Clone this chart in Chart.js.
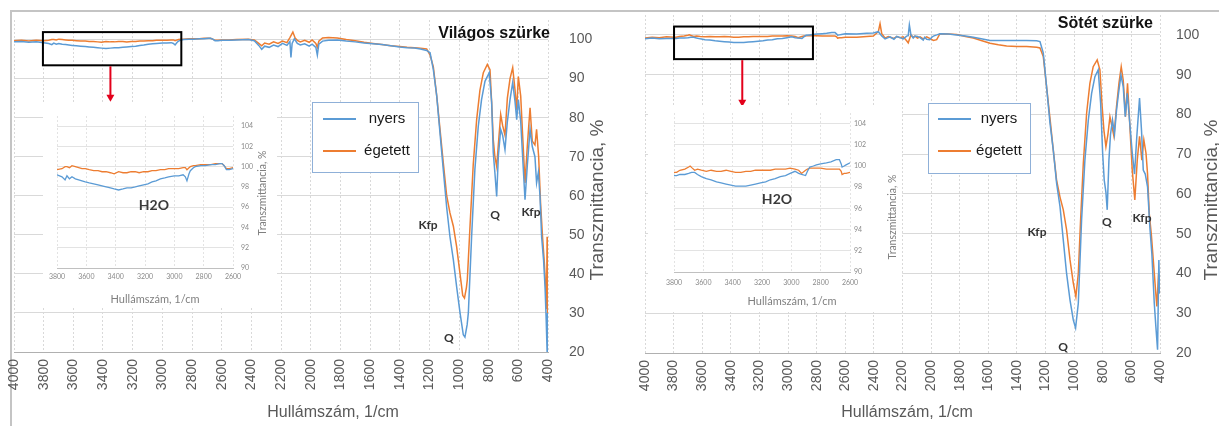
<!DOCTYPE html>
<html>
<head>
<meta charset="utf-8">
<script src="https://cdn.jsdelivr.net/npm/chart.js@4.4.0/dist/chart.umd.min.js"></script>
<style>
  html, body { margin: 0; padding: 0; background: #fff; }
  #wrap { position: relative; width: 1219px; height: 426px; overflow: hidden; background: #fff; }
  #wrap canvas { position: absolute; }
  .frame { position: absolute; left: 10px; top: 10px; width: 1209px; height: 416px;
           border-top: 2px solid #c4c4c4; border-left: 2px solid #c4c4c4; }
</style>
</head>
<body>
<div id="wrap">
  <div class="frame"></div>
  <canvas id="mainLight" width="610" height="426" style="left:0;top:0"></canvas>
  <canvas id="mainDark" width="609" height="426" style="left:610px;top:0"></canvas>
  <canvas id="insetLight" width="234" height="204" style="left:43px;top:103px;background:#fff"></canvas>
  <canvas id="insetDark" width="254" height="207" style="left:648px;top:105px;background:#fff"></canvas>
</div>
<script>
// --- data (wavenumber 1/cm, transmittance %) ---
const seriesNames = ['nyers', 'égetett'];

const lightRawWn = [4000,3950,3900,3850,3800,3766,3745,3732,3715,3698,
  3675,3652,3630,3607,3580,3550,3520,3493,3465,3436,
  3410,3380,3350,3323,3295,3266,3240,3209,3180,3152,
  3125,3095,3065,3039,3000,2970,2940,2925,2914,2900,
  2891,2870,2857,2820,2789,2750,2720,2690,2675,2660,
  2645,2625,2600,2550,2500,2420,2380,2350,2330,2310,
  2280,2250,2220,2190,2160,2140,2133,2125,2110,2090,
  2070,2040,2010,1990,1965,1955,1945,1920,1880,1820,
  1760,1700,1640,1580,1520,1460,1400,1350,1300,1260,
  1218,1195,1173,1150,1128,1106,1083,1061,1038,1016,
  993,971,960,945,937,915,893,870,848,825,
  796,780,769,758,746,735,719,706,690,674,
  656,638,622,611,600,584,571,555,539,521,
  506,488,477,465,454,443,430,420,412,406,
  403,400];
const lightRawT = [99.4,99.5,99.3,99.4,99.2,99.0,98.7,99.1,98.8,99.0,
  98.8,98.7,98.6,98.5,98.4,98.3,98.2,98.1,98.0,97.9,
  97.8,97.7,97.8,97.9,97.9,98.0,98.1,98.2,98.3,98.5,
  98.6,98.8,98.9,99.0,99.1,99.1,99.2,99.0,98.6,99.3,
  99.6,99.9,100.0,100.1,100.1,100.2,100.2,100.3,100.3,100.1,
  99.7,99.7,99.8,99.8,99.9,100.0,99.7,98.5,97.5,98.3,
  98.0,98.6,98.2,99.0,98.5,99.5,95.4,99.0,100.2,99.0,
  98.6,98.9,98.3,98.8,98.0,96.0,98.8,99.6,99.8,99.9,
  99.6,99.4,99.1,98.9,98.7,98.4,98.1,97.9,97.8,97.6,
  97.2,96.6,92.3,85.5,76.0,66.7,57.0,49.5,43.6,36.7,
  30.0,24.4,23.8,27.0,30.0,49.5,66.7,77.8,84.6,89.3,
  91.5,84.0,71.0,65.9,59.8,70.0,77.0,75.5,71.8,79.0,
  84.6,89.0,84.0,79.5,84.6,79.0,70.0,59.0,68.0,77.0,
  72.6,70.0,63.3,66.0,60.0,49.5,43.6,36.7,28.0,20.0,
  30.0,27.0];

const lightBurntWn = [4000,3950,3900,3850,3800,3766,3745,3732,3715,3698,
  3675,3652,3630,3607,3580,3550,3520,3493,3465,3436,
  3410,3380,3350,3323,3295,3266,3240,3209,3180,3152,
  3125,3095,3065,3039,3000,2970,2940,2925,2914,2900,
  2891,2870,2857,2820,2789,2750,2720,2690,2675,2660,
  2645,2625,2600,2550,2500,2420,2380,2350,2330,2310,
  2280,2250,2220,2190,2160,2140,2120,2105,2090,2070,
  2040,2010,1990,1965,1955,1945,1920,1880,1820,1760,
  1700,1640,1580,1520,1460,1400,1350,1300,1260,1218,
  1195,1173,1150,1128,1106,1083,1061,1038,1016,993,
  975,963,950,944,926,904,881,859,836,809,
  791,780,769,758,746,735,719,706,690,674,
  656,638,622,611,600,584,571,555,539,521,
  506,488,477,463,450,436,425,415,410,406,
  403,400];
const lightBurntT = [99.7,99.8,99.6,99.8,99.7,99.8,100.0,100.0,99.9,100.1,
  100.0,99.9,99.8,99.8,99.7,99.6,99.6,99.5,99.5,99.4,
  99.3,99.5,99.4,99.4,99.5,99.5,99.4,99.5,99.5,99.6,
  99.6,99.7,99.7,99.8,99.8,99.8,99.9,99.9,99.7,99.9,
  100.0,100.1,100.1,100.2,100.2,100.2,100.3,100.3,100.3,100.1,
  99.8,99.8,99.9,99.9,100.0,100.1,99.9,99.0,98.4,99.1,
  98.8,99.4,99.0,99.6,99.2,100.5,101.9,100.4,99.8,99.4,
  99.8,99.3,99.9,99.0,98.0,99.6,100.4,100.5,100.4,100.0,
  99.7,99.3,99.0,98.7,98.4,98.2,98.0,97.9,97.8,97.6,
  96.0,93.0,85.5,77.0,68.5,60.0,55.6,52.2,47.0,40.0,
  34.5,33.8,36.5,38.5,52.0,68.0,79.5,87.0,91.5,93.6,
  92.3,84.0,74.4,70.0,67.5,73.0,80.8,78.0,75.5,85.0,
  90.0,92.8,87.0,82.0,90.5,85.5,75.5,63.3,73.0,82.5,
  74.0,73.0,77.0,70.0,58.0,49.0,43.0,36.0,31.0,49.5,
  29.0,33.0];

const darkRawWn = [4000,3950,3900,3850,3800,3782,3760,3726,3700,3680,
  3659,3640,3614,3580,3547,3510,3479,3445,3412,3380,
  3345,3310,3277,3245,3210,3175,3143,3110,3075,3040,
  3008,2975,2950,2930,2903,2890,2874,2850,2829,2800,
  2761,2730,2694,2672,2660,2654,2640,2627,2600,2520,
  2450,2404,2369,2345,2322,2300,2287,2260,2240,2217,
  2195,2171,2160,2152,2141,2125,2113,2095,2077,2055,
  2045,2031,2010,1995,1984,1960,1938,1880,1821,1760,
  1705,1650,1588,1530,1472,1400,1332,1262,1239,1216,
  1193,1169,1146,1123,1099,1076,1053,1029,1006,990,
  971,948,925,901,878,855,832,815,801,790,
  778,769,757,746,732,718,704,690,673,657,
  643,629,613,594,578,562,543,529,517,503,
  487,471,457,440,429,417,408,403,400];
const darkRawT = [99.0,99.2,99.0,99.1,99.1,99.1,99.2,99.2,99.3,99.4,
  99.4,99.2,99.0,98.8,98.7,98.5,98.4,98.3,98.2,98.1,
  98.1,98.1,98.2,98.3,98.4,98.5,98.7,98.8,99.0,99.1,
  99.3,99.5,99.3,99.2,99.1,99.5,99.9,100.0,100.1,100.2,
  100.3,100.4,100.6,100.6,100.2,99.9,100.0,100.1,100.3,100.2,
  100.4,100.5,100.8,99.7,99.0,99.3,99.5,98.9,99.6,99.3,
  99.0,99.7,99.8,102.5,100.0,99.2,99.7,99.6,99.3,98.7,
  99.4,98.9,98.8,99.4,99.7,100.0,100.3,100.2,100.0,99.7,
  99.4,99.0,98.6,98.6,98.6,98.6,98.6,98.5,98.3,95.5,
  87.0,77.8,71.0,62.8,56.8,48.4,40.0,33.3,28.3,26.3,
  32.5,53.5,68.5,78.6,85.3,89.5,91.2,82.8,70.3,63.5,
  60.4,56.0,68.5,75.0,78.6,75.0,81.0,85.3,89.9,87.0,
  79.4,85.3,78.6,70.3,65.0,74.5,84.1,75.8,66.0,65.0,
  61.8,51.7,45.0,32.5,26.7,20.8,43.4,35.0,38.0];

const darkBurntWn = [4000,3950,3900,3850,3800,3782,3760,3726,3700,3690,
  3675,3659,3640,3614,3580,3547,3510,3479,3445,3412,
  3380,3345,3310,3277,3245,3210,3175,3143,3110,3075,
  3040,3008,2975,2950,2930,2903,2890,2874,2850,2829,
  2800,2761,2730,2694,2672,2660,2654,2640,2627,2600,
  2520,2450,2404,2369,2357,2345,2322,2300,2287,2260,
  2240,2217,2195,2171,2160,2141,2125,2113,2095,2077,
  2055,2031,2010,1984,1961,1938,1880,1821,1760,1705,
  1650,1588,1530,1472,1400,1332,1262,1239,1216,1193,
  1169,1146,1123,1099,1076,1053,1029,1006,988,971,
  955,936,913,890,867,839,820,806,792,778,
  764,750,736,722,704,687,671,657,641,627,
  613,594,576,559,543,527,513,498,487,475,
  461,447,433,422,410,403,400];
const darkBurntT = [99.2,99.4,99.3,99.5,99.4,99.4,99.6,99.7,99.9,100.0,
  99.8,99.6,99.7,99.6,99.5,99.6,99.5,99.5,99.6,99.5,
  99.4,99.4,99.5,99.5,99.6,99.6,99.6,99.6,99.7,99.7,
  99.7,99.8,99.7,99.6,99.3,99.6,99.7,99.8,99.8,99.8,
  99.8,99.7,99.7,99.7,99.7,99.5,99.2,99.3,99.3,99.4,
  99.4,99.6,99.7,100.8,102.8,100.3,99.2,99.6,99.4,99.1,
  99.6,99.3,99.5,98.5,98.0,100.0,99.4,99.7,99.2,99.5,
  99.0,99.5,99.1,98.6,98.8,100.3,100.2,100.1,99.6,99.2,
  98.6,97.9,97.5,97.2,97.1,97.1,96.9,96.7,94.6,87.0,
  79.0,71.0,63.5,59.2,56.0,51.0,43.4,37.6,34.2,40.0,
  53.5,67.7,80.3,87.8,92.0,93.7,91.2,82.8,76.0,71.9,
  75.0,79.4,77.0,74.5,82.0,87.8,92.0,88.6,79.4,87.8,
  78.6,66.0,58.5,68.5,74.5,68.5,73.6,70.3,65.0,55.0,
  50.0,43.4,36.7,31.7,40.0,36.7,35.0];

// tick labels
const mainXTicks = [4000,3800,3600,3400,3200,3000,2800,2600,2400,2200,2000,1800,1600,1400,1200,1000,800,600,400];
const mainYTicks = [20,30,40,50,60,70,80,90,100];
const insetXTicks = [3800,3600,3400,3200,3000,2800,2600];
const insetYTicks = [90,92,94,96,98,100,102,104];

const BLUE = '#5b9bd5';
const ORANGE = '#ed7d31';
const GRID = '#d9d9d9';
const AXIS_TXT = '#595959';

function toPoints(wn, t) {
  return wn.map((w, i) => ({ x: w, y: t[i] }));
}

function drawText(ctx, txt, x, y, font, color, align, rot) {
  ctx.save();
  ctx.font = font;
  ctx.fillStyle = color;
  ctx.textAlign = align || 'center';
  ctx.textBaseline = 'middle';
  ctx.translate(x, y);
  if (rot) ctx.rotate(rot);
  ctx.fillText(txt, 0, 0);
  ctx.restore();
}

function datasets(raw, burnt, width) {
  return [
    { label: seriesNames[0], data: toPoints(raw[0], raw[1]), borderColor: BLUE,
      borderWidth: width, pointRadius: 0, tension: 0 },
    { label: seriesNames[1], data: toPoints(burnt[0], burnt[1]), borderColor: ORANGE,
      borderWidth: width, pointRadius: 0, tension: 0 }
  ];
}

// fixed axis sizes so the plot areas land where the original's are
function fixX(h) {
  return s => { s.height = h; s.paddingLeft = 0; s.paddingRight = 0; };
}
function fixY(w) {
  return s => { s.width = w; s.paddingTop = 0; s.paddingBottom = 0; };
}

// titles, legend box, zoom frame + arrow, peak labels
function mainDecor(o) {
  return {
    id: 'mainDecor',
    afterDatasetsDraw(chart) {
      const { ctx, scales: { x, y } } = chart;
      const b = o.box;
      const bx0 = x.getPixelForValue(b.from), bx1 = x.getPixelForValue(b.to);
      const by0 = y.getPixelForValue(b.top), by1 = y.getPixelForValue(b.bottom);
      ctx.save();
      ctx.strokeStyle = '#000';
      ctx.lineWidth = 2;
      ctx.strokeRect(bx0, by0, bx1 - bx0, by1 - by0);
      const ax = x.getPixelForValue(b.arrowAt), ay = y.getPixelForValue(b.arrowTo);
      ctx.strokeStyle = '#e3001b';
      ctx.fillStyle = '#e3001b';
      ctx.beginPath();
      ctx.moveTo(ax, by1 + 1);
      ctx.lineTo(ax, ay - 6);
      ctx.stroke();
      ctx.beginPath();
      ctx.moveTo(ax - 4, ay - 7);
      ctx.lineTo(ax + 4, ay - 7);
      ctx.lineTo(ax, ay);
      ctx.closePath();
      ctx.fill();

      // legend
      const L = o.legend;
      ctx.fillStyle = '#fff';
      ctx.fillRect(L.x, L.y, L.w, L.h);
      ctx.strokeStyle = '#8fb0d8';
      ctx.lineWidth = 1;
      ctx.strokeRect(L.x + 0.5, L.y + 0.5, L.w, L.h);
      chart.data.datasets.forEach((ds, i) => {
        const ly = L.rows[i];
        ctx.strokeStyle = ds.borderColor;
        ctx.lineWidth = 2;
        ctx.beginPath();
        ctx.moveTo(L.lineFrom, ly);
        ctx.lineTo(L.lineTo, ly);
        ctx.stroke();
        drawText(ctx, ds.label, L.textX, ly, '15px "Liberation Sans", Arial, sans-serif', '#1a1a1a', 'center');
      });
      ctx.restore();

      o.labels.forEach(l => drawText(ctx, l.text, x.getPixelForValue(l.wn), y.getPixelForValue(l.t),
        'bold 12px Lato, sans-serif', '#333', 'center'));

      drawText(ctx, o.title, o.titleX, o.titleY, 'bold 16px "Liberation Sans", Arial, sans-serif', '#111', 'right');
      drawText(ctx, 'Hullámszám, 1/cm', o.xTitle[0], o.xTitle[1], '16px "Liberation Sans", Arial, sans-serif', AXIS_TXT);
      drawText(ctx, 'Transzmittancia, %', o.yTitle[0], o.yTitle[1], '19px "Liberation Sans", Arial, sans-serif', AXIS_TXT, 'center', -Math.PI / 2);
    }
  };
}

function insetDecor(o) {
  return {
    id: 'insetDecor',
    afterDatasetsDraw(chart) {
      const { ctx, scales: { x, y } } = chart;
      drawText(ctx, 'H2O', x.getPixelForValue(o.h2o.wn), y.getPixelForValue(o.h2o.t), 'bold 14px Lato, sans-serif', '#3a3a3a');
      drawText(ctx, 'Hullámszám, 1/cm', o.xTitle[0], o.xTitle[1], '11px Lato, sans-serif', '#7f7f7f');
      drawText(ctx, 'Transzmittancia, %', o.yTitle[0], o.yTitle[1], '10.5px Lato, sans-serif', '#7f7f7f', 'center', -Math.PI / 2);
    }
  };
}

function mainChart(id, raw, burnt, o) {
  return new Chart(document.getElementById(id), {
    type: 'line',
    data: { datasets: datasets(raw, burnt, 1.5) },
    options: {
      responsive: false,
      animation: false,
      layout: { padding: { left: o.padLeft, top: o.padTop, right: 0, bottom: 0 } },
      plugins: { legend: { display: false }, tooltip: { enabled: false } },
      scales: {
        x: {
          type: 'linear', reverse: true, min: 400, max: 4000,
          afterBuildTicks: s => { s.ticks = mainXTicks.map(v => ({ value: v })); },
          afterFit: fixX(o.xHeight),
          grid: { color: GRID, drawTicks: false },
          border: { color: '#b0b0b0', dash: [2, 2] },
          ticks: { autoSkip: false, minRotation: 90, maxRotation: 90, padding: 7, color: AXIS_TXT,
                   callback: v => String(v),
                   font: { family: '"Liberation Sans", Arial, sans-serif', size: 14 } }
        },
        y: {
          position: 'right', min: 20, max: 105,
          afterBuildTicks: s => { s.ticks = mainYTicks.map(v => ({ value: v })); },
          afterFit: fixY(o.yWidth),
          grid: { color: GRID, drawTicks: false },
          border: { display: false },
          ticks: { padding: o.yPad, color: AXIS_TXT, callback: v => String(v),
                   font: { family: '"Liberation Sans", Arial, sans-serif', size: 14 } }
        }
      }
    },
    plugins: [mainDecor(o)]
  });
}

function insetChart(id, raw, burnt, o) {
  return new Chart(document.getElementById(id), {
    type: 'line',
    data: { datasets: datasets(raw, burnt, 1.3) },
    options: {
      responsive: false,
      animation: false,
      layout: { padding: { left: o.padLeft, top: o.padTop, right: 0, bottom: 0 } },
      plugins: { legend: { display: false }, tooltip: { enabled: false } },
      scales: {
        x: {
          type: 'linear', reverse: true, min: 2600, max: 3800,
          afterBuildTicks: s => { s.ticks = insetXTicks.map(v => ({ value: v })); },
          afterFit: fixX(o.xHeight),
          grid: { color: '#e3e3e3', drawTicks: false },
          border: { color: '#c0c0c0', dash: [2, 2] },
          ticks: { autoSkip: false, maxRotation: 0, padding: o.xPad, color: '#8a8a8a',
                   callback: v => String(v), font: { family: 'Lato, sans-serif', size: 7 } }
        },
        y: {
          position: 'right', min: 90, max: 105,
          afterBuildTicks: s => { s.ticks = insetYTicks.map(v => ({ value: v })); },
          afterFit: fixY(o.yWidth),
          grid: { color: '#e3e3e3', drawTicks: false },
          border: { display: false },
          ticks: { padding: o.yPad, color: '#8a8a8a', callback: v => String(v),
                   font: { family: 'Lato, sans-serif', size: 7 } }
        }
      }
    },
    plugins: [insetDecor(o)]
  });
}

mainChart('mainLight', [lightRawWn, lightRawT], [lightBurntWn, lightBurntT], {
  padLeft: 14, padTop: 20, xHeight: 74, yWidth: 62, yPad: 21,
  title: 'Világos szürke', titleX: 550, titleY: 34,
  xTitle: [333, 413], yTitle: [598, 200],
  legend: { x: 312, y: 102, w: 106, h: 70, lineFrom: 323, lineTo: 356, textX: 387, rows: [119, 151] },
  box: { from: 3805, to: 2872, top: 101.9, bottom: 93.4, arrowAt: 3350, arrowTo: 84.1 },
  labels: [
    { text: 'Kfp', wn: 1209, t: 52.6 }, { text: 'Q', wn: 757, t: 55.1 },
    { text: 'Kfp', wn: 515, t: 55.9 }, { text: 'Q', wn: 1068, t: 23.6 }
  ]
});

mainChart('mainDark', [darkRawWn, darkRawT], [darkBurntWn, darkBurntT], {
  padLeft: 35, padTop: 15, xHeight: 73, yWidth: 59, yPad: 16,
  title: 'Sötét szürke', titleX: 543, titleY: 24,
  xTitle: [297, 413], yTitle: [602, 200],
  legend: { x: 318, y: 103, w: 102, h: 70, lineFrom: 328, lineTo: 361, textX: 389, rows: [119, 151] },
  box: { from: 3797, to: 2826, top: 102.1, bottom: 93.9, arrowAt: 3320, arrowTo: 81.9 },
  labels: [
    { text: 'Kfp', wn: 1260, t: 50.4 }, { text: 'Q', wn: 771, t: 53 },
    { text: 'Kfp', wn: 526, t: 54 }, { text: 'Q', wn: 1078, t: 21.5 }
  ]
});

insetChart('insetLight', [lightRawWn, lightRawT], [lightBurntWn, lightBurntT], {
  padLeft: 14, padTop: 13, xHeight: 39, yWidth: 44, yPad: 8, xPad: 5,
  h2o: { wn: 3139, t: 96.2 }, xTitle: [112, 196], yTitle: [220, 90]
});

insetChart('insetDark', [darkRawWn, darkRawT], [darkBurntWn, darkBurntT], {
  padLeft: 26, padTop: 8, xHeight: 40, yWidth: 52, yPad: 4, xPad: 7,
  h2o: { wn: 3098, t: 96.8 }, xTitle: [144, 196], yTitle: [245, 112]
});
</script>
</body>
</html>
